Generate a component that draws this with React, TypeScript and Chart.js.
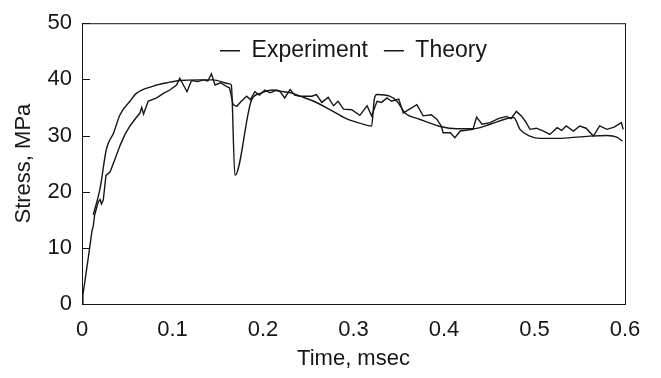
import React, { useEffect, useRef } from "react";
import { Chart, registerables } from "chart.js";

Chart.register(...registerables);

const theoryTime = [0.0125, 0.02, 0.027, 0.035, 0.042, 0.053, 0.06, 0.079, 0.094, 0.108, 0.13, 0.145, 0.163, 0.165, 0.169, 0.1875, 0.197, 0.211, 0.219, 0.233, 0.241, 0.256, 0.274, 0.292, 0.307, 0.32, 0.323, 0.326, 0.34, 0.348, 0.357, 0.373, 0.396, 0.414, 0.432, 0.451, 0.477, 0.484, 0.495, 0.506, 0.525, 0.561, 0.58, 0.591, 0.597];
const theoryStress = [15.9, 20.6, 27.6, 30.5, 33.7, 36.1, 37.5, 38.8, 39.4, 39.8, 39.9, 39.9, 39.2, 39.0, 22.9, 36.4, 37.5, 38.1, 37.9, 37.5, 37.0, 36.1, 34.6, 33.0, 32.2, 31.7, 36.5, 37.3, 37.0, 36.1, 34.0, 32.9, 31.6, 31.2, 31.2, 32.0, 33.2, 31.1, 29.9, 29.5, 29.5, 29.9, 30.0, 29.7, 29.0];

const expTime = [0, 0.001, 0.007, 0.011, 0.0125, 0.014, 0.018, 0.02, 0.0215, 0.0235, 0.0265, 0.031, 0.0365, 0.042, 0.0475, 0.053, 0.0585, 0.064, 0.066, 0.068, 0.073, 0.0825, 0.09, 0.097, 0.1045, 0.108, 0.112, 0.116, 0.121, 0.128, 0.134, 0.139, 0.143, 0.147, 0.153, 0.16, 0.163, 0.167, 0.171, 0.176, 0.182, 0.186, 0.191, 0.196, 0.202, 0.208, 0.215, 0.219, 0.224, 0.23, 0.235, 0.241, 0.254, 0.259, 0.265, 0.272, 0.278, 0.283, 0.289, 0.298, 0.307, 0.315, 0.32, 0.326, 0.331, 0.337, 0.342, 0.35, 0.355, 0.361, 0.37, 0.377, 0.386, 0.392, 0.397, 0.399, 0.407, 0.412, 0.418, 0.432, 0.436, 0.442, 0.451, 0.46, 0.469, 0.474, 0.48, 0.486, 0.49, 0.495, 0.502, 0.51, 0.517, 0.525, 0.53, 0.535, 0.543, 0.55, 0.557, 0.565, 0.572, 0.58, 0.588, 0.596, 0.598];
const expStress = [0.0, 1.6, 8.3, 13.0, 13.9, 15.9, 18.2, 18.6, 17.8, 18.5, 22.9, 23.5, 25.8, 28.2, 30.2, 31.7, 32.9, 34.0, 35.0, 33.8, 36.1, 36.7, 37.5, 38.1, 39.0, 40.2, 39.0, 37.8, 39.8, 39.6, 39.9, 39.7, 41.0, 39.0, 39.4, 38.7, 38.5, 35.5, 35.2, 36.1, 37.0, 36.4, 37.8, 37.2, 38.1, 37.6, 38.1, 37.8, 36.7, 38.2, 37.2, 37.0, 37.0, 37.3, 35.9, 36.8, 35.3, 36.1, 34.7, 34.6, 33.6, 35.3, 33.5, 36.1, 35.9, 36.7, 36.1, 36.5, 34.0, 34.6, 35.5, 33.5, 33.7, 32.9, 31.7, 30.5, 30.5, 29.6, 30.8, 31.1, 33.3, 32.0, 32.3, 33.0, 33.4, 33.0, 34.3, 33.4, 32.5, 31.1, 31.3, 30.8, 30.2, 31.4, 30.9, 31.7, 30.8, 31.7, 31.3, 29.9, 31.7, 31.1, 31.5, 32.3, 31.1];

const xTicks = [0, 0.1, 0.2, 0.3, 0.4, 0.5, 0.6];
const yTicks = [0, 10, 20, 30, 40, 50];

const FONT = "'Liberation Sans', Arial, sans-serif";
const INK = "#161616";

const legendRow = {
  id: "legendRow",
  beforeLayout(chart: any) {
    if (chart.legend) chart.legend.isHorizontal = () => true;
  },
  afterLayout(chart: any) {
    const lg = chart.legend;
    if (lg) {
      lg.left = chart.chartArea.left;
      lg.right = chart.chartArea.right;
      lg.width = lg.right - lg.left;
      lg.top = chart.chartArea.top;
    }
  },
};

const frame = {
  id: "frame",
  afterDraw(chart: any) {
    const { ctx, chartArea } = chart;
    const y = chart.scales.y;
    ctx.save();
    ctx.strokeStyle = INK;
    ctx.lineWidth = 1;
    ctx.strokeRect(chartArea.left + 0.5, chartArea.top + 0.5, chartArea.right - chartArea.left, chartArea.bottom - chartArea.top);
    ctx.beginPath();
    y.ticks.forEach((t: any) => {
      const py = Math.round(y.getPixelForValue(t.value)) + 0.5;
      ctx.moveTo(chartArea.left, py);
      ctx.lineTo(chartArea.left + 8, py);
    });
    ctx.stroke();
    ctx.restore();
  },
};

export default function App() {
  const ref = useRef<HTMLCanvasElement>(null);
  useEffect(() => {
    if (!ref.current) return;
    const toPts = (xs: number[], ys: number[]) => xs.map((x, i) => ({ x, y: ys[i] }));
    const chart = new Chart(ref.current, {
      type: "line",
      data: {
        datasets: [
          {
            label: "Experiment",
            data: toPts(expTime, expStress),
            borderColor: INK,
            backgroundColor: INK,
            borderWidth: 1.4,
            pointRadius: 0,
            tension: 0,
          },
          {
            label: "Theory",
            data: toPts(theoryTime, theoryStress),
            borderColor: INK,
            backgroundColor: INK,
            borderWidth: 1.4,
            pointRadius: 0,
            cubicInterpolationMode: "monotone",
          },
        ],
      },
      options: {
        animation: false,
        responsive: false,
        layout: { padding: { top: 19, right: 36, left: 0, bottom: 0 } },
        plugins: {
          tooltip: { enabled: false },
          legend: {
            position: "chartArea",
            align: "center",
            labels: {
              usePointStyle: true,
              pointStyle: "line",
              pointStyleWidth: 20,
              color: INK,
              font: { family: FONT, size: 23 },
              padding: 16,
            },
          },
        },
        scales: {
          x: {
            type: "linear",
            min: 0,
            max: 0.6,
            afterFit: (s: any) => { s.height = 74; },
            afterBuildTicks: (s: any) => { s.ticks = xTicks.map((v) => ({ value: v })); },
            grid: { display: false, drawTicks: false },
            border: { display: true, color: INK, width: 1 },
            ticks: { color: INK, font: { family: FONT, size: 22 }, padding: 13, maxRotation: 0 },
            title: { display: true, text: "Time, msec", color: INK, font: { family: FONT, size: 22 }, padding: { top: 0, bottom: 6 } },
          },
          y: {
            type: "linear",
            min: 0,
            max: 50,
            afterFit: (s: any) => { s.width = 82; },
            afterBuildTicks: (s: any) => { s.ticks = yTicks.map((v) => ({ value: v })); },
            grid: { display: false, drawTicks: false },
            border: { display: true, color: INK, width: 1 },
            ticks: { color: INK, font: { family: FONT, size: 22 }, padding: 10 },
            title: { display: true, text: "Stress, MPa", color: INK, font: { family: FONT, size: 22 }, padding: { top: 11, bottom: 0 } },
          },
        },
      },
      plugins: [legendRow, frame],
    } as any);
    return () => chart.destroy();
  }, []);
  return (
    <div style={{ position: "absolute", left: 0, top: 0, width: 661, height: 378, background: "#fff" }}>
      <canvas ref={ref} width={661} height={378} style={{ width: 661, height: 378 }} />
    </div>
  );
}
